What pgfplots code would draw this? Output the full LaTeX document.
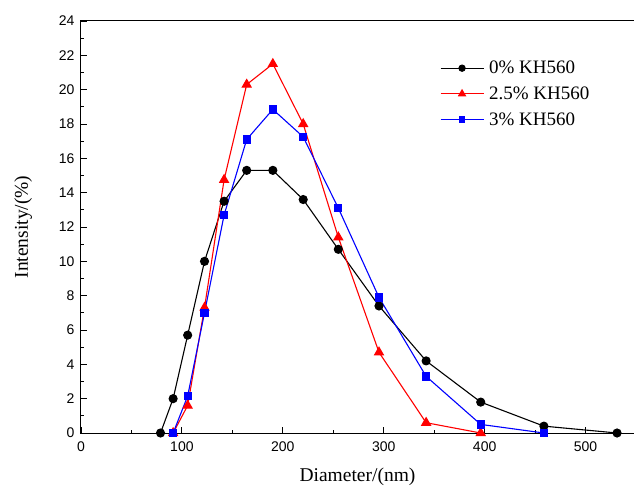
\documentclass[border=0pt]{standalone}
\usepackage{fontspec}
\setmainfont{Liberation Serif}
\newfontfamily\arialfont{Liberation Sans}
\usepackage{pgfplots}
\pgfplotsset{compat=1.18}

\begin{document}
\begin{tikzpicture}
\begin{axis}[
  scale only axis,
  width=553pt, height=412pt,
  xmin=0, xmax=548, ymin=0, ymax=24,
  xtick={0,100,...,500}, minor x tick num=1,
  ytick={0,2,...,24}, minor y tick num=1,
  tick align=inside, xtick pos=bottom, ytick pos=left,
  major tick length=6pt, minor tick length=3.5pt,
  every tick/.style={black, line width=0.9pt},
  axis line style={line width=1pt},
  /pgf/number format/assume math mode=true,
  ticklabel style={font=\arialfont\fontsize{14}{16}\selectfont},
  xticklabel style={yshift=-5pt},
  yticklabel style={xshift=-3pt},
  xlabel={Diameter/(nm)}, ylabel={Intensity/(\%)},
  label style={font=\fontsize{19.5}{22}\selectfont},
  xlabel style={yshift=-10pt},
  ylabel style={yshift=20pt},
  legend style={draw=none, fill=none, inner sep=0pt, at={(0.649,0.908)}, anchor=north west,
    font=\fontsize{19}{21}\selectfont, row sep=7.5pt, nodes={inner xsep=5pt}},
  legend cell align=left,
  legend image code/.code={
    \draw[mark repeat=2, mark phase=2, line width=0.9pt, mark options={scale=0.8}]
      plot coordinates {(0pt,0pt) (21.5pt,0pt) (43pt,0pt)};
  },
  every axis plot/.append style={line width=1.1pt},
]
\addplot[black, mark=*, mark size=4pt] coordinates {
  (78.8,0) (91.3,2.0) (105.7,5.7) (122.4,10.0) (141.8,13.5) (164.2,15.3)
  (190.1,15.3) (220.2,13.6) (255,10.7) (295.3,7.4) (342,4.2) (396.1,1.8)
  (458.7,0.4) (531.2,0)
};
\addlegendentry{0\% KH560}
\addplot[red, mark=triangle*, mark size=5pt] coordinates {
  (91.3,0) (105.7,1.6) (122.4,7.3) (141.8,14.75) (164.2,20.3) (190.1,21.5)
  (220.2,18.0) (255,11.4) (295.3,4.7) (342,0.6) (396.1,0)
};
\addlegendentry{2.5\% KH560}
\addplot[blue, mark=square*, mark size=3.6pt] coordinates {
  (91.3,0) (105.7,2.15) (122.4,7.0) (141.8,12.7) (164.2,17.1) (190.1,18.85)
  (220.2,17.25) (255,13.1) (295.3,7.9) (342,3.3) (396.1,0.5) (458.7,0)
};
\addlegendentry{3\% KH560}
\end{axis}
\pgfresetboundingbox
\path ([shift={(-81pt,-54pt)}]current axis.south west) rectangle ([shift={(0pt,21pt)}]current axis.north east);
\end{tikzpicture}
\end{document}
